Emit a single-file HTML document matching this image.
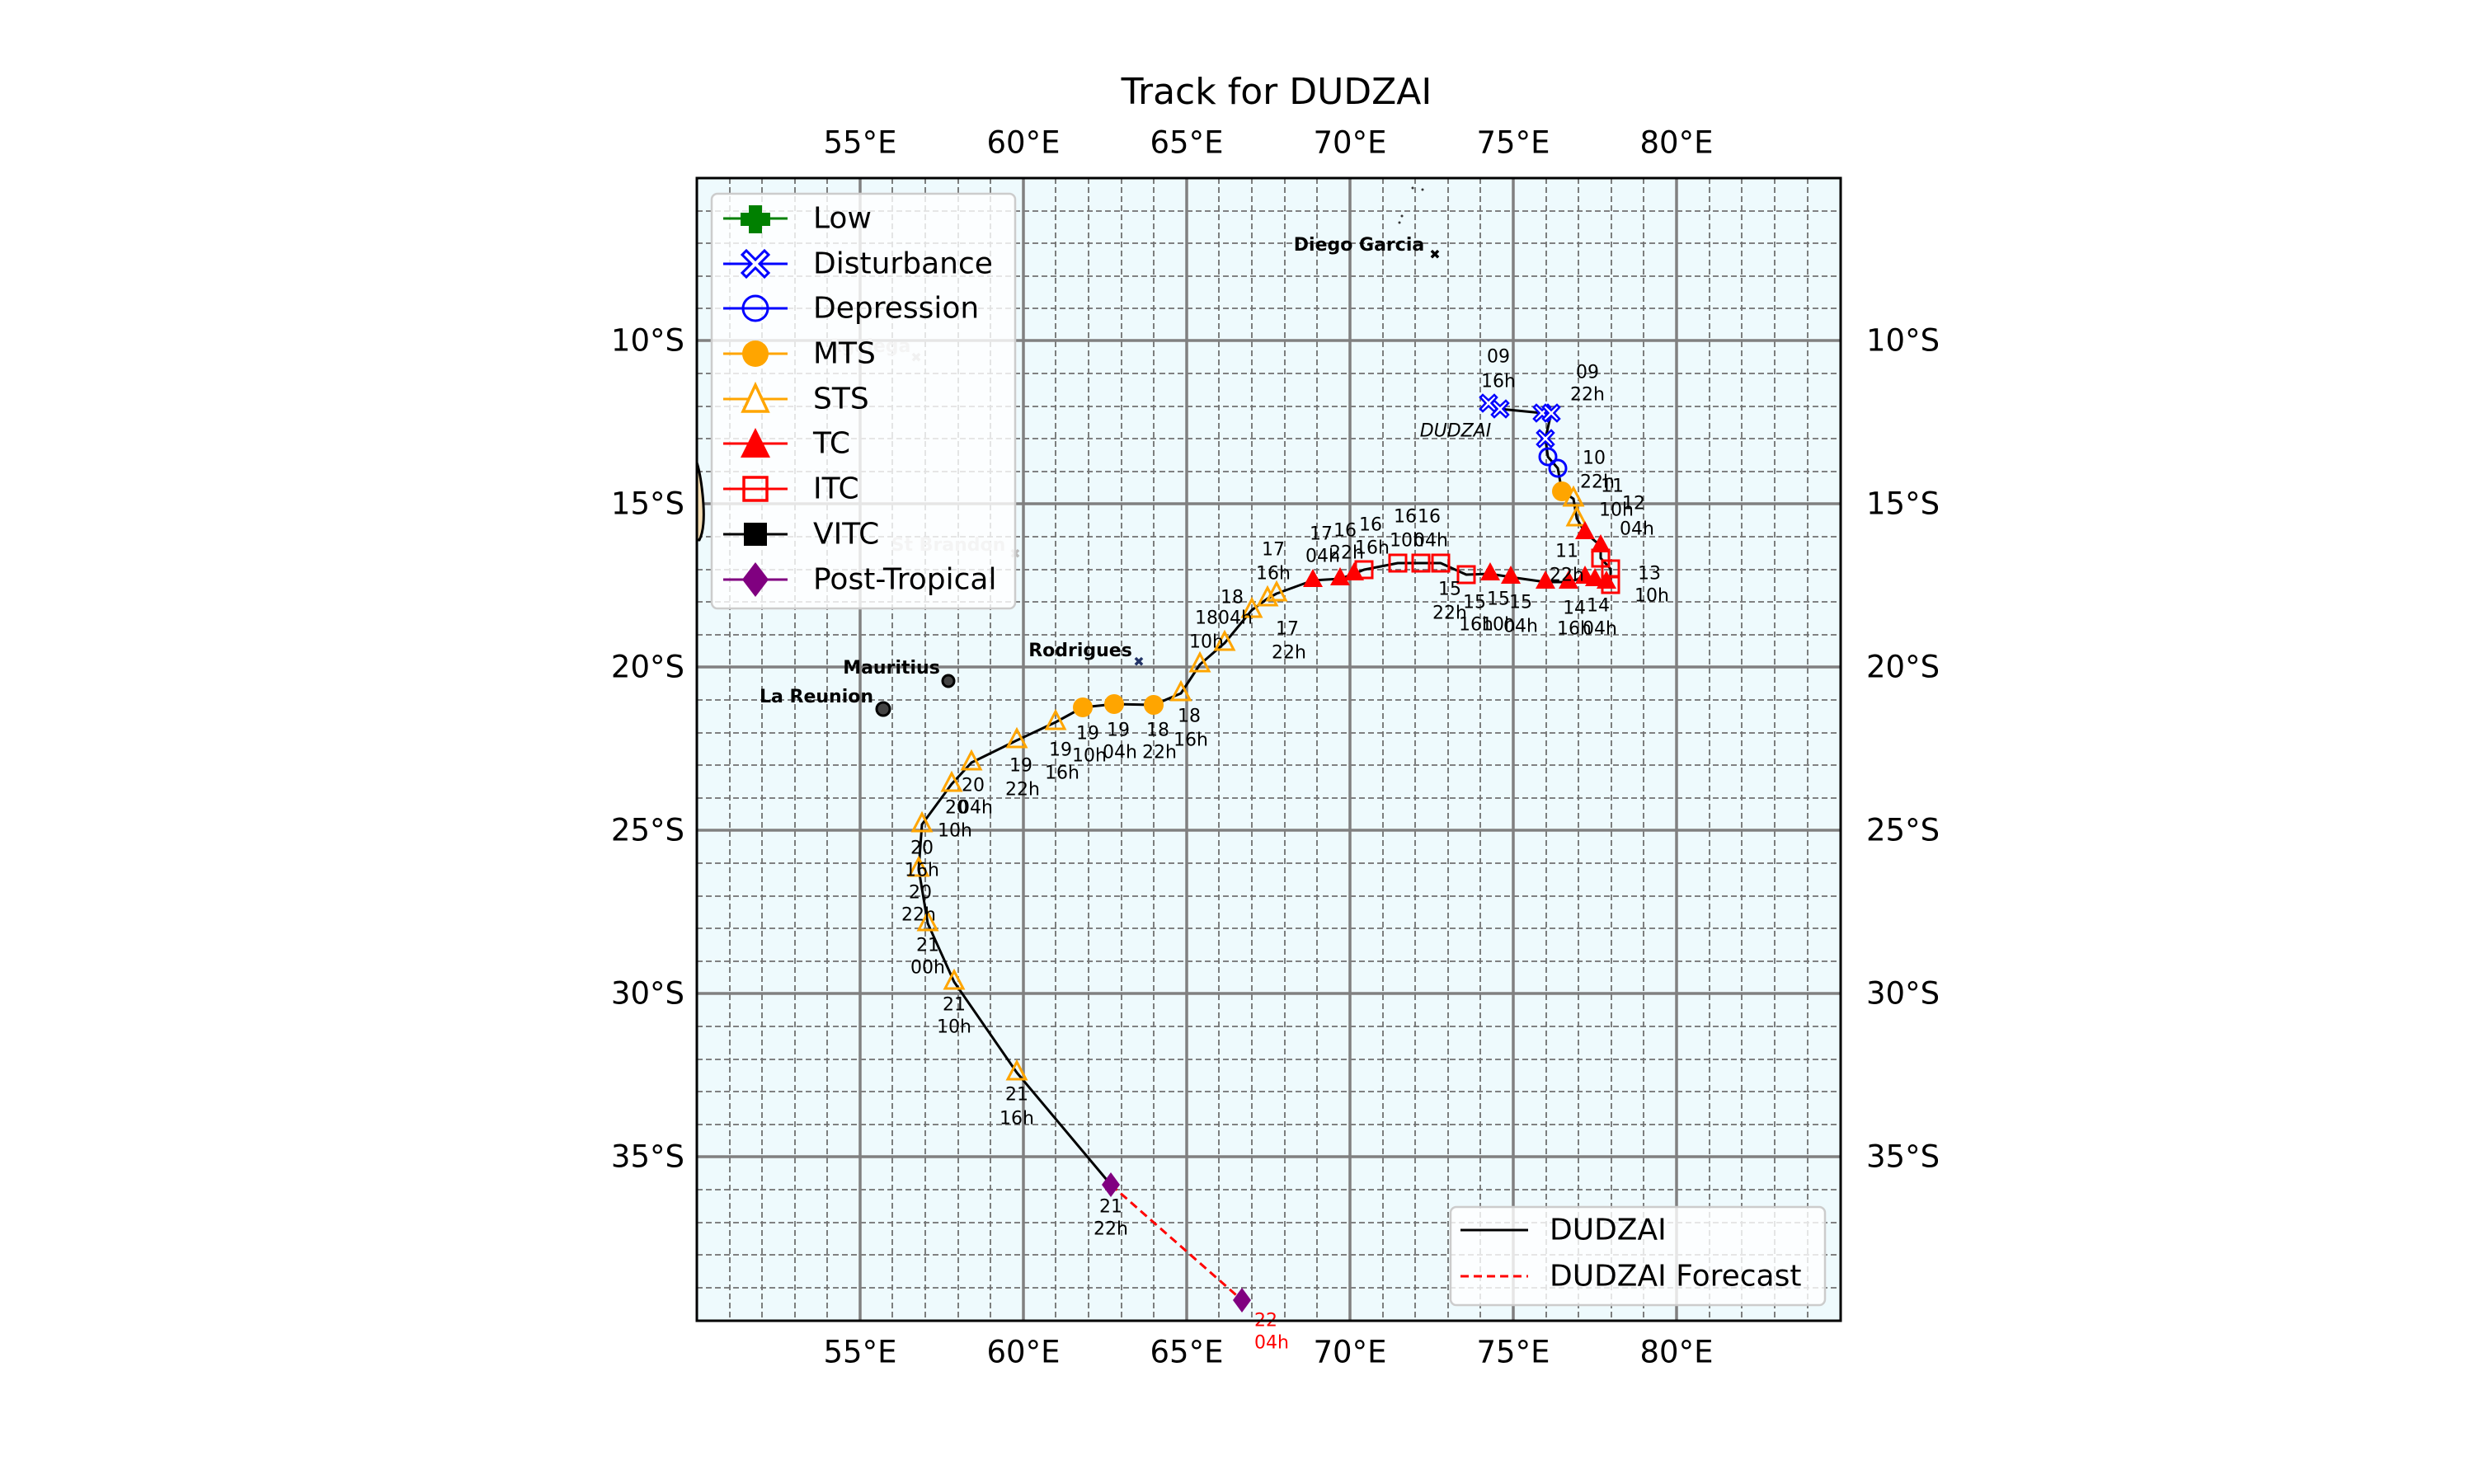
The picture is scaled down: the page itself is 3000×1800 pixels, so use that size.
<!DOCTYPE html>
<html><head><meta charset="utf-8"><style>
html,body{margin:0;padding:0;background:#fff;}
svg{display:block;font-family:"DejaVu Sans","Liberation Sans",sans-serif;}
</style></head><body>
<svg width="3000" height="1800" viewBox="0 0 3000 1800" xmlns="http://www.w3.org/2000/svg">
<defs>
<polygon id="triO" points="0,-13 11,8 -11,8" fill="none" stroke="#ffa500" stroke-width="3"/>
<polygon id="triF" points="0,-14 12,8 -12,8" fill="#ff0000"/>
<circle id="cirO" r="10" fill="none" stroke="#0000ff" stroke-width="3"/>
<circle id="cirF" r="12" fill="#ffa500"/>
<rect id="sq" x="-10" y="-10" width="20" height="20" fill="none" stroke="#ff0000" stroke-width="3"/>
<polygon id="dia" points="0,-15 11,0 0,15 -11,0" fill="#800080"/>
<path id="dist" d="M-3.5,0 L-10,-7 L-7,-10 L0,-3.5 L7,-10 L10,-7 L3.5,0 L10,7 L7,10 L0,3.5 L-7,10 L-10,7 Z" fill="#fff" stroke="#0000ff" stroke-width="2.5"/>
<clipPath id="ax"><rect x="845" y="216" width="1387" height="1386"/></clipPath>
</defs>

<text x="1548" y="126" font-size="44" text-anchor="middle">Track for DUDZAI</text>

<rect x="845" y="216" width="1387" height="1386" fill="#eefafd"/>
<g clip-path="url(#ax)">
<g stroke="#707070" stroke-width="1.8" stroke-dasharray="7,4" fill="none">
<path d="M885,216V1602M924,216V1602M964,216V1602M1003,216V1602M1082,216V1602M1122,216V1602M1162,216V1602M1201,216V1602M1280,216V1602M1320,216V1602M1360,216V1602M1399,216V1602M1478,216V1602M1518,216V1602M1558,216V1602M1597,216V1602M1677,216V1602M1716,216V1602M1756,216V1602M1795,216V1602M1875,216V1602M1914,216V1602M1954,216V1602M1993,216V1602M2073,216V1602M2112,216V1602M2152,216V1602M2192,216V1602"/>
<path d="M845,256H2232M845,295H2232M845,335H2232M845,374H2232M845,453H2232M845,493H2232M845,532H2232M845,572H2232M845,651H2232M845,691H2232M845,730H2232M845,770H2232M845,849H2232M845,889H2232M845,928H2232M845,968H2232M845,1047H2232M845,1087H2232M845,1126H2232M845,1166H2232M845,1245H2232M845,1285H2232M845,1324H2232M845,1364H2232M845,1443H2232M845,1483H2232M845,1522H2232M845,1562H2232"/>
</g>
<g stroke="#808080" stroke-width="3.5" fill="none">
<path d="M1043,216V1602M1241,216V1602M1439,216V1602M1637,216V1602M1835,216V1602M2033,216V1602"/>
<path d="M845,413H2232M845,611H2232M845,809H2232M845,1007H2232M845,1205H2232M845,1403H2232"/>
</g>
<path d="M838,545 Q848,560 852,600 Q856,640 848,655 L838,655 Z" fill="#f5deb3" stroke="#000" stroke-width="3"/>
</g>

<g font-size="22" font-weight="bold" text-anchor="middle">
<text x="1648" y="304">Diego Garcia</text>
<text x="1310" y="796">Rodrigues</text>
<text x="1081" y="817">Mauritius</text>
<text x="990" y="852">La Reunion</text>
</g>
<g font-size="22" font-weight="bold" text-anchor="middle" fill="#c8c8c8">
<text x="1054" y="427">Agalega</text>
<text x="1150" y="668">St Brandon</text>
</g>
<g font-size="16" font-weight="bold" text-anchor="middle">
<text x="1740" y="314">✖</text>
<text x="1381" y="808" fill="#223366">✖</text>
<text x="1111" y="439" fill="#bbbbbb">✖</text>
<text x="1231" y="677" fill="#bbbbbb">✖</text>
</g>
<circle cx="1150" cy="826" r="7" fill="#444" stroke="#000" stroke-width="3"/>
<circle cx="1071" cy="860" r="8" fill="#444" stroke="#000" stroke-width="3"/>
<g fill="#333"><circle cx="1713" cy="228" r="1.5"/><circle cx="1725" cy="230" r="1.5"/><circle cx="1700" cy="262" r="1.5"/><circle cx="1697" cy="270" r="1.5"/></g>

<polyline fill="none" stroke="#000" stroke-width="3" stroke-linejoin="round" points="1805,489 1819,496 1870,501 1881,501 1874,532 1877,554 1889,568 1894,596 1908,605 1912,629 1922,646 1941,662 1941,677 1953,690 1953,709 1948,706 1934,703 1922,700 1902,706 1874,706 1832,700 1807,696 1778,697 1747,683 1723,683 1695,683 1654,691 1642,696 1625,702 1592,704 1548,720 1537,726 1518,740 1485,780 1455,806 1432,841 1399,855 1351,854 1313,858 1280,876 1233,898 1178,925 1154,951 1118,1000 1114,1054 1125,1120 1157,1191 1233,1301 1347,1437"/>
<line x1="1347" y1="1437" x2="1506" y2="1577" stroke="#ff0000" stroke-width="3" stroke-dasharray="10,6"/>

<use href="#dist" x="1805" y="489"/><use href="#dist" x="1819" y="496"/><use href="#dist" x="1870" y="501"/><use href="#dist" x="1881" y="501"/><use href="#dist" x="1874" y="532"/>
<use href="#cirO" x="1877" y="554"/><use href="#cirO" x="1889" y="568"/>
<use href="#cirF" x="1894" y="596"/>
<use href="#triO" x="1908" y="605"/><use href="#triO" x="1912" y="629"/>
<use href="#triF" x="1922" y="646"/><use href="#triF" x="1941" y="662"/>
<use href="#sq" x="1941" y="677"/><use href="#sq" x="1953" y="690"/><use href="#sq" x="1953" y="709"/>
<use href="#triF" x="1948" y="706"/><use href="#triF" x="1934" y="703"/><use href="#triF" x="1922" y="700"/><use href="#triF" x="1902" y="706"/><use href="#triF" x="1874" y="706"/><use href="#triF" x="1832" y="700"/><use href="#triF" x="1807" y="696"/>
<use href="#sq" x="1778" y="697"/><use href="#sq" x="1747" y="683"/><use href="#sq" x="1723" y="683"/><use href="#sq" x="1695" y="683"/><use href="#sq" x="1654" y="691"/>
<use href="#triF" x="1642" y="696"/><use href="#triF" x="1625" y="702"/><use href="#triF" x="1592" y="704"/>
<use href="#triO" x="1548" y="720"/><use href="#triO" x="1537" y="726"/><use href="#triO" x="1518" y="740"/><use href="#triO" x="1485" y="780"/><use href="#triO" x="1455" y="806"/><use href="#triO" x="1432" y="841"/>
<use href="#cirF" x="1399" y="855"/><use href="#cirF" x="1351" y="854"/><use href="#cirF" x="1313" y="858"/>
<use href="#triO" x="1280" y="876"/><use href="#triO" x="1233" y="898"/><use href="#triO" x="1178" y="925"/><use href="#triO" x="1154" y="951"/><use href="#triO" x="1118" y="1000"/><use href="#triO" x="1114" y="1054"/><use href="#triO" x="1125" y="1120"/><use href="#triO" x="1157" y="1191"/><use href="#triO" x="1233" y="1301"/>
<use href="#dia" x="1347" y="1437"/><use href="#dia" x="1506" y="1577"/>

<g font-size="22" text-anchor="middle" dominant-baseline="central">
<text x="1817" y="433">09</text><text x="1817" y="463">16h</text>
<text x="1925" y="452">09</text><text x="1925" y="479">22h</text>
<text x="1933" y="556">10</text><text x="1937" y="585">22h</text>
<text x="1955" y="590">11</text><text x="1960" y="619">10h</text>
<text x="1981" y="611">12</text><text x="1985" y="642">04h</text>
<text x="2000" y="696">13</text><text x="2003" y="723">10h</text>
<text x="1900" y="669">11</text><text x="1900" y="698">22h</text>
<text x="1909" y="738">14</text><text x="1909" y="763">16h</text>
<text x="1938" y="735">14</text><text x="1940" y="763">04h</text>
<text x="1758" y="715">15</text><text x="1758" y="744">22h</text>
<text x="1788" y="731">15</text><text x="1790" y="758">16h</text>
<text x="1817" y="727">15</text><text x="1817" y="758">10h</text>
<text x="1844" y="731">15</text><text x="1844" y="760">04h</text>
<text x="1733" y="627">16</text><text x="1735" y="656">04h</text>
<text x="1704" y="627">16</text><text x="1706" y="656">10h</text>
<text x="1662" y="637">16</text><text x="1664" y="665">16h</text>
<text x="1631" y="644">16</text><text x="1633" y="671">22h</text>
<text x="1602" y="648">17</text><text x="1604" y="675">04h</text>
<text x="1544" y="667">17</text><text x="1544" y="696">16h</text>
<text x="1494" y="725">18</text><text x="1498" y="750">04h</text>
<text x="1463" y="750">18</text><text x="1463" y="779">10h</text>
<text x="1561" y="763">17</text><text x="1563" y="792">22h</text>
<text x="1442" y="869">18</text><text x="1444" y="898">16h</text>
<text x="1404" y="886">18</text><text x="1406" y="913">22h</text>
<text x="1356" y="886">19</text><text x="1358" y="913">04h</text>
<text x="1319" y="890">19</text><text x="1321" y="917">10h</text>
<text x="1286" y="910">19</text><text x="1288" y="938">16h</text>
<text x="1238" y="929">19</text><text x="1240" y="958">22h</text>
<text x="1180" y="953">20</text><text x="1183" y="980">04h</text>
<text x="1160" y="980">20</text><text x="1158" y="1008">10h</text>
<text x="1118" y="1029">20</text><text x="1118" y="1056">16h</text>
<text x="1116" y="1083">20</text><text x="1114" y="1110">22h</text>
<text x="1125" y="1147">21</text><text x="1125" y="1174">00h</text>
<text x="1157" y="1219">21</text><text x="1157" y="1246">10h</text>
<text x="1233" y="1328">21</text><text x="1233" y="1357">16h</text>
<text x="1347" y="1464">21</text><text x="1347" y="1491">22h</text>
<text x="1535" y="1602" fill="#ff0000">22</text><text x="1542" y="1629" fill="#ff0000">04h</text>
<text x="1765" y="523" font-style="italic">DUDZAI</text>
</g>

<rect x="863" y="235" width="368" height="503" rx="7" fill="#fff" fill-opacity="0.8" stroke="#cccccc" stroke-width="2.5"/>
<g stroke-width="3">
<line x1="877" y1="265" x2="955" y2="265" stroke="#008000"/>
<path d="M908,249h16v9h10v16h-10v9h-16v-9h-10v-16h10z" fill="#008000"/>
<line x1="877" y1="320" x2="955" y2="320" stroke="#0000ff"/>
<path d="M911,320 L900,309 L905,304 L916,315 L927,304 L932,309 L921,320 L932,331 L927,336 L916,325 L905,336 L900,331 Z" fill="#fff" stroke="#0000ff" stroke-width="3"/>
<line x1="877" y1="374" x2="955" y2="374" stroke="#0000ff"/>
<circle cx="916" cy="374" r="15" fill="none" stroke="#0000ff"/>
<line x1="877" y1="429" x2="955" y2="429" stroke="#ffa500"/>
<circle cx="916" cy="429" r="16" fill="#ffa500"/>
<line x1="877" y1="484" x2="955" y2="484" stroke="#ffa500"/>
<polygon points="916,467 931,499 901,499" fill="#fff" stroke="#ffa500" stroke-width="3.5"/>
<line x1="877" y1="538" x2="955" y2="538" stroke="#ff0000"/>
<polygon points="916,519 934,555 898,555" fill="#ff0000"/>
<line x1="877" y1="593" x2="955" y2="593" stroke="#ff0000"/>
<rect x="902" y="579" width="28" height="28" fill="none" stroke="#ff0000" stroke-width="3.5"/>
<line x1="877" y1="648" x2="955" y2="648" stroke="#000"/>
<rect x="902" y="634" width="28" height="28" fill="#000"/>
<line x1="877" y1="703" x2="955" y2="703" stroke="#800080"/>
<polygon points="916,682 932,703 916,724 900,703" fill="#800080"/>
</g>
<g font-size="36" dominant-baseline="central">
<text x="986" y="265">Low</text>
<text x="986" y="320">Disturbance</text>
<text x="986" y="374">Depression</text>
<text x="986" y="429">MTS</text>
<text x="986" y="484">STS</text>
<text x="986" y="538">TC</text>
<text x="986" y="593">ITC</text>
<text x="986" y="648">VITC</text>
<text x="986" y="703">Post-Tropical</text>
</g>

<rect x="1759" y="1464" width="454" height="119" rx="7" fill="#fff" fill-opacity="0.8" stroke="#cccccc" stroke-width="2.5"/>
<line x1="1771" y1="1492" x2="1853" y2="1492" stroke="#000" stroke-width="3"/>
<line x1="1771" y1="1548" x2="1853" y2="1548" stroke="#ff0000" stroke-width="3" stroke-dasharray="10,6"/>
<g font-size="36" dominant-baseline="central">
<text x="1879" y="1492">DUDZAI</text>
<text x="1879" y="1548">DUDZAI Forecast</text>
</g>

<rect x="845" y="216" width="1387" height="1386" fill="none" stroke="#000" stroke-width="3"/>

<g font-size="37" text-anchor="middle" dominant-baseline="central">
<text x="1043" y="173">55°E</text><text x="1241" y="173">60°E</text><text x="1439" y="173">65°E</text><text x="1637" y="173">70°E</text><text x="1835" y="173">75°E</text><text x="2033" y="173">80°E</text>
<text x="1043" y="1640">55°E</text><text x="1241" y="1640">60°E</text><text x="1439" y="1640">65°E</text><text x="1637" y="1640">70°E</text><text x="1835" y="1640">75°E</text><text x="2033" y="1640">80°E</text>
</g>
<g font-size="37" text-anchor="end" dominant-baseline="central">
<text x="830" y="413">10°S</text><text x="830" y="611">15°S</text><text x="830" y="809">20°S</text><text x="830" y="1007">25°S</text><text x="830" y="1205">30°S</text><text x="830" y="1403">35°S</text>
</g>
<g font-size="37" text-anchor="start" dominant-baseline="central">
<text x="2263" y="413">10°S</text><text x="2263" y="611">15°S</text><text x="2263" y="809">20°S</text><text x="2263" y="1007">25°S</text><text x="2263" y="1205">30°S</text><text x="2263" y="1403">35°S</text>
</g>
</svg>
</body></html>
